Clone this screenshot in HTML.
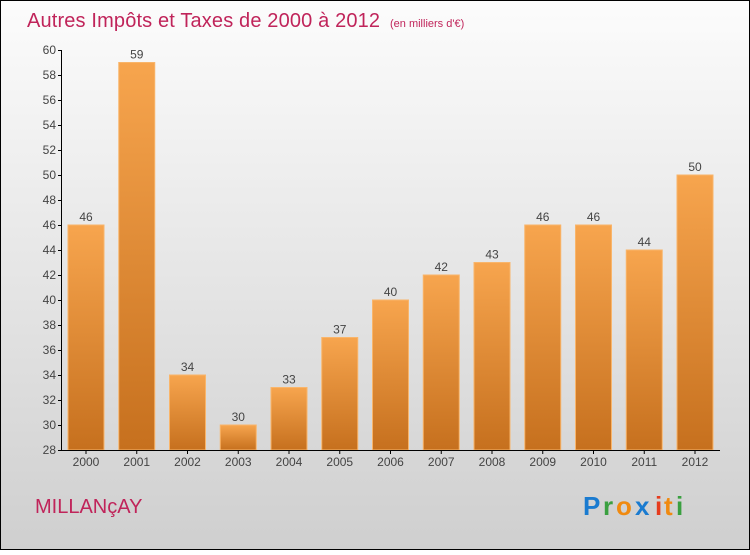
<!DOCTYPE html>
<html><head><meta charset="utf-8"><style>
html,body{margin:0;padding:0}
body{width:750px;height:550px;overflow:hidden;font-family:"Liberation Sans",sans-serif}
</style></head><body>
<svg id="c" width="750" height="550" xmlns="http://www.w3.org/2000/svg">
<defs>
<linearGradient id="bg" x1="0" y1="0" x2="0" y2="1"><stop offset="0" stop-color="#fcfcfc"/><stop offset="1" stop-color="#cfcfcf"/></linearGradient>
<linearGradient id="bar" x1="0" y1="0" x2="0" y2="1"><stop offset="0" stop-color="#f7a54e"/><stop offset="1" stop-color="#c6701e"/></linearGradient>
</defs>
<rect x="0.5" y="0.5" width="749" height="549" fill="url(#bg)" stroke="#000"/>
<text x="27" y="27" font-size="20" fill="#c0245a" textLength="353">Autres Impôts et Taxes de 2000 à 2012</text>
<text x="390" y="27" font-size="11" fill="#c0245a">(en milliers d'€)</text>
<g id="bars"></g>
<g id="axes"></g>
<text x="35" y="513" font-size="20" fill="#c0245a">MILLANçAY</text>
<g font-size="26" font-weight="bold">
<text x="583" y="515" fill="#1a7bd0">P</text><text x="603" y="515" fill="#3aa040">r</text><text x="616" y="515" fill="#f08a10">o</text><text x="635" y="515" fill="#1a7bd0">x</text><text x="655" y="515" fill="#e63c1e">i</text><text x="664" y="515" fill="#f08a10">t</text><text x="676" y="515" fill="#3aa040">i</text>
</g>
</svg>
<script>
const years=["2000","2001","2002","2003","2004","2005","2006","2007","2008","2009","2010","2011","2012"];
const values=[46,59,34,30,33,37,40,42,43,46,46,44,50];
const ticks=[28,30,32,34,36,38,40,42,44,46,48,50,52,54,56,58,60];
const NS="http://www.w3.org/2000/svg";
const y0=450,y1=50,vmin=28,vmax=60;
function yS(v){return y0-(v-vmin)/(vmax-vmin)*(y0-y1);}
function xS(i){return 86+i*50.75;}
function mk(t,a,p){const e=document.createElementNS(NS,t);for(const k in a)e.setAttribute(k,a[k]);p.appendChild(e);return e;}
const gb=document.getElementById('bars'),ga=document.getElementById('axes');
values.forEach((v,i)=>{
 const r=mk('rect',{x:xS(i)-18,y:yS(v),width:36,height:y0-yS(v),fill:'url(#bar)',stroke:'#f9b56a','stroke-width':1},gb);
 
 
 const t=mk('text',{x:xS(i),y:yS(v)-4,'text-anchor':'middle','font-size':12,fill:'#444'},gb);t.textContent=v;
 
 
 const xl=mk('text',{x:xS(i),y:466,'text-anchor':'middle','font-size':12,fill:'#444'},ga);xl.textContent=years[i];
 
 
 mk('line',{x1:xS(i),x2:xS(i),y1:450,y2:454,stroke:'#000'},ga);
});
const ya=mk('line',{x1:61.5,x2:61.5,y1:50,y2:450,stroke:'#000'},ga);


const xa=mk('line',{x1:61,x2:720,y1:450.5,y2:450.5,stroke:'#000'},ga);


ticks.forEach(v=>{
 mk('line',{x1:58,x2:62,y1:yS(v)+0.5,y2:yS(v)+0.5,stroke:'#000'},ga);
 const t=mk('text',{x:56,y:yS(v)+4,'text-anchor':'end','font-size':12,fill:'#444'},ga);t.textContent=v;
 
 
});
</script>
</body></html>
